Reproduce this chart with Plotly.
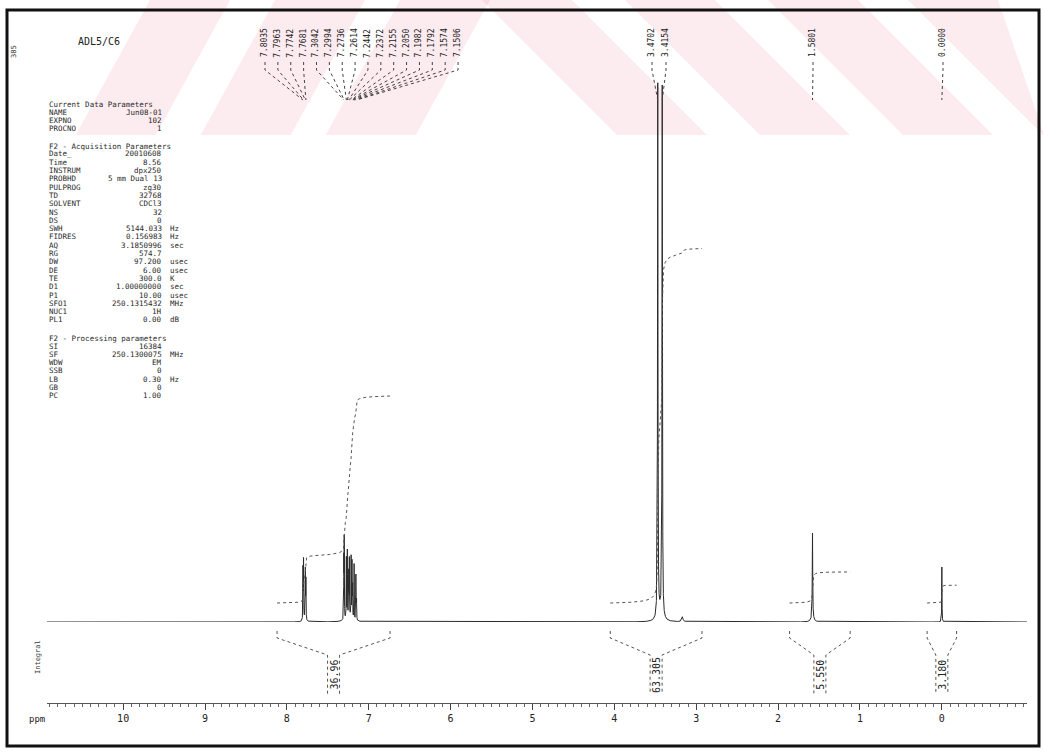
import numpy as np
import plotly.graph_objects as go

W, H = 1044, 752

# ---------------- data ----------------
# labelled peaks (ppm), heights (arbitrary units ~ px above baseline), FWHM (ppm)
peak_ppm = [7.8035, 7.7963, 7.7742, 7.7681,
            7.3042, 7.2994, 7.2736, 7.2614, 7.2442, 7.2372, 7.2155, 7.2050,
            7.1982, 7.1792, 7.1574, 7.1506,
            3.4702, 3.4154, 1.5801, 0.0000]
peak_height = [52, 60, 48, 44,
               58, 78, 60, 66, 52, 56, 60, 54,
               48, 56, 44, 38,
               535, 530, 85, 55]
peak_width = [0.0035] * 16 + [0.006, 0.006, 0.006, 0.004]

# unlabelled features (broad bases, small impurity)
extra_ppm = [7.78, 7.24, 3.44, 3.17, 1.58]
extra_height = [4, 6, 10, 5, 4]
extra_width = [0.03, 0.08, 0.06, 0.02, 0.04]

# integral regions (ppm, left -> right) and values
int_from = [8.12, 4.05, 1.86, 0.18]
int_to = [6.74, 2.93, 1.12, -0.18]
int_value = [36.96, 63.305, 5.550, 3.180]
int_text = ["36.96", "63.305", "5.550", "3.180"]

# axis ticks
tick_vals = [10, 9, 8, 7, 6, 5, 4, 3, 2, 1, 0]
tick_text = ["10", "9", "8", "7", "6", "5", "4", "3", "2", "1", "0"]

# acquisition / processing parameter listing
sec_titles = ["Current Data Parameters", "F2 - Acquisition Parameters",
              "F2 - Processing parameters"]
sec1 = [("NAME", "Jun08-01", ""), ("EXPNO", "102", ""), ("PROCNO", "1", "")]
sec2 = [("Date_", "20010608", ""), ("Time", "8.56", ""), ("INSTRUM", "dpx250", ""),
        ("PROBHD", "5 mm Dual 13", ""), ("PULPROG", "zg30", ""), ("TD", "32768", ""),
        ("SOLVENT", "CDCl3", ""), ("NS", "32", ""), ("DS", "0", ""),
        ("SWH", "5144.033", "Hz"), ("FIDRES", "0.156983", "Hz"),
        ("AQ", "3.1850996", "sec"), ("RG", "574.7", ""), ("DW", "97.200", "usec"),
        ("DE", "6.00", "usec"), ("TE", "300.0", "K"), ("D1", "1.00000000", "sec"),
        ("P1", "10.00", "usec"), ("SFO1", "250.1315432", "MHz"), ("NUC1", "1H", ""),
        ("PL1", "0.00", "dB")]
sec3 = [("SI", "16384", ""), ("SF", "250.1300075", "MHz"), ("WDW", "EM", ""),
        ("SSB", "0", ""), ("LB", "0.30", "Hz"), ("GB", "0", ""), ("PC", "1.00", "")]

# ---------------- geometry ----------------
X_LEFT, X_RIGHT = 47, 1027
PPM_MAX, PPM_MIN = 10.93, -1.04
BASE_PX, TOP_PX = 622, 40
AXIS_PX = 703
Y_MAX = BASE_PX - TOP_PX
INT_OFFSET = 19
INT_SCALE = 5.6


def px_x(ppm):
    return X_LEFT + (PPM_MAX - ppm) / (PPM_MAX - PPM_MIN) * (X_RIGHT - X_LEFT)


def fx(px):
    return px / W


def fy(py):
    return 1 - py / H


def lorentz(x, c, h, w):
    return h / (1 + (2 * (x - c) / w) ** 2)


x = np.arange(PPM_MIN, PPM_MAX, 0.0005)
y = np.zeros_like(x)
for c, h, w in zip(peak_ppm + extra_ppm, peak_height + extra_height, peak_width + extra_width):
    y += lorentz(x, c, h, w)

fig = go.Figure()
fig.add_trace(go.Scatter(x=x, y=y, mode="lines",
                         line=dict(color="#2a2a2a", width=1), hoverinfo="skip"))

# integral curves
for a, b, v in zip(int_from, int_to, int_value):
    m = (x <= a) & (x >= b)
    xs = x[m][::-1]
    ys = y[m][::-1]
    cum = np.cumsum(ys)
    cum = cum / cum[-1]
    fig.add_trace(go.Scatter(x=xs, y=INT_OFFSET + cum * v * INT_SCALE, mode="lines",
                             line=dict(color="#555", width=1, dash="dot"),
                             hoverinfo="skip"))

shapes = []
annotations = []

# watermark bands (top strip)
WM_H = 135
wm_bands = [(150, 80, -0.55), (275, 90, -0.55), (400, 90, -0.55),
            (482, 90, 1.0), (625, 90, 1.0), (768, 90, 1.0), (908, 90, 1.0)]
for x0, w, s in wm_bands:
    pts = [(x0, 0), (x0 + w, 0), (x0 + w + s * WM_H, WM_H), (x0 + s * WM_H, WM_H)]
    path = "M " + " L ".join(f"{fx(max(0, min(W, px)))},{fy(py)}" for px, py in pts) + " Z"
    shapes.append(dict(type="path", xref="paper", yref="paper", path=path,
                       fillcolor="rgba(236,120,150,0.15)", line=dict(width=0),
                       layer="below"))

# page frame
shapes.append(dict(type="rect", xref="paper", yref="paper",
                   x0=fx(7), x1=fx(1039), y0=fy(746), y1=fy(10),
                   line=dict(color="#111", width=3)))

# integral brackets and values
for a, b, t in zip(int_from, int_to, int_text):
    c = (a + b) / 2
    xa, xb, xc = px_x(a), px_x(b), px_x(c)
    hl = 6
    for xe, xi in ((xa, xc - hl), (xb, xc + hl)):
        shapes.append(dict(type="path", xref="paper", yref="paper",
                           path=f"M {fx(xe)},{fy(631)} L {fx(xe)},{fy(638)} "
                                f"L {fx(xi)},{fy(655)} L {fx(xi)},{fy(694)}",
                           line=dict(color="#555", width=1, dash="dot")))
    annotations.append(dict(xref="paper", yref="paper", x=fx(xc), y=fy(675),
                            text=t, textangle=-90, showarrow=False,
                            font=dict(family="DejaVu Sans Mono", size=10, color="#222"),
                            xanchor="center", yanchor="middle"))

# peak labels along the top
groups = [list(range(0, 16)), [16, 17], [18], [19]]
slot_start = [265, 652, 813, 943]
slot_step = [12.87, 14, 0, 0]
for g, s0, st in zip(groups, slot_start, slot_step):
    for k, i in enumerate(g):
        sx = s0 + k * st
        annotations.append(dict(xref="paper", yref="paper", x=fx(sx), y=fy(43),
                                text=f"{peak_ppm[i]:.4f}", textangle=-90, showarrow=False,
                                font=dict(family="DejaVu Sans Mono", size=8, color="#222"),
                                xanchor="center", yanchor="middle"))
        shapes.append(dict(type="path", xref="paper", yref="paper",
                           path=f"M {fx(sx)},{fy(62)} L {fx(sx)},{fy(70)} "
                                f"L {fx(px_x(peak_ppm[i]))},{fy(100)}",
                           line=dict(color="#444", width=1, dash="dot")))

# parameter listing
mono = dict(family="DejaVu Sans Mono", size=7.5, color="#2a2a2a")
LBL_X, VAL_X, UNIT_X = 47, 164, 168


def put_rows(rows, y0, step):
    for j, (n, v, u) in enumerate(rows):
        yy = y0 + j * step
        annotations.append(dict(xref="paper", yref="paper", x=fx(LBL_X), y=fy(yy), text=n,
                                showarrow=False, xanchor="left", yanchor="middle", font=mono))
        annotations.append(dict(xref="paper", yref="paper", x=fx(VAL_X), y=fy(yy), text=v,
                                showarrow=False, xanchor="right", yanchor="middle", font=mono))
        if u:
            annotations.append(dict(xref="paper", yref="paper", x=fx(UNIT_X), y=fy(yy), text=u,
                                    showarrow=False, xanchor="left", yanchor="middle", font=mono))


STEP = 8.3
for t, yy in zip(sec_titles, [104, 146, 338]):
    annotations.append(dict(xref="paper", yref="paper", x=fx(LBL_X), y=fy(yy), text=t,
                            showarrow=False, xanchor="left", yanchor="middle", font=mono))
put_rows(sec1, 112, STEP)
put_rows(sec2, 154, STEP)
put_rows(sec3, 346, STEP)

# title, side labels
annotations += [
    dict(xref="paper", yref="paper", x=fx(76), y=fy(42), text="ADL5/C6", showarrow=False,
         xanchor="left", yanchor="middle",
         font=dict(family="DejaVu Sans Mono", size=10, color="#222")),
    dict(xref="paper", yref="paper", x=fx(14), y=fy(52), text="385", textangle=-90,
         showarrow=False, xanchor="center", yanchor="middle",
         font=dict(family="DejaVu Sans Mono", size=7, color="#333")),
    dict(xref="paper", yref="paper", x=fx(38), y=fy(657), text="Integral", textangle=-90,
         showarrow=False, xanchor="center", yanchor="middle",
         font=dict(family="DejaVu Sans Mono", size=7, color="#333")),
    dict(xref="paper", yref="paper", x=fx(37), y=fy(719), text="ppm", showarrow=False,
         xanchor="center", yanchor="middle",
         font=dict(family="DejaVu Sans Mono", size=9, color="#222")),
]

fig.update_layout(
    width=W, height=H, margin=dict(l=0, r=0, t=0, b=0),
    paper_bgcolor="white", plot_bgcolor="rgba(0,0,0,0)",
    showlegend=False, shapes=shapes, annotations=annotations,
    xaxis=dict(domain=[fx(X_LEFT), fx(X_RIGHT)], range=[PPM_MAX, PPM_MIN],
               anchor="free", position=fy(AXIS_PX),
               tickvals=tick_vals, ticktext=tick_text, ticks="outside", ticklen=6,
               tickcolor="#444", tickwidth=1,
               minor=dict(dtick=0.1, ticks="outside", ticklen=3, tickcolor="#666"),
               showline=True, linecolor="#555", linewidth=1,
               showgrid=False, zeroline=False,
               tickfont=dict(family="DejaVu Sans Mono", size=10, color="#222")),
    yaxis=dict(domain=[fy(BASE_PX), fy(TOP_PX)], range=[0, Y_MAX], visible=False,
               showgrid=False, zeroline=False),
)

fig.write_html("out.html")
